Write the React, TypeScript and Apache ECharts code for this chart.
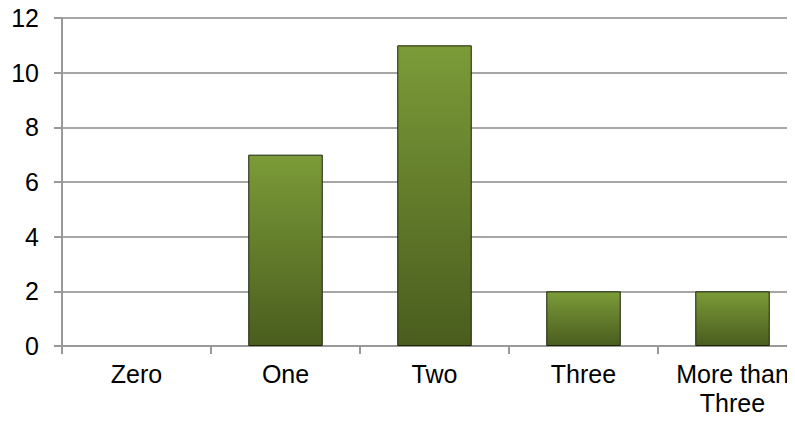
import React, { useEffect, useRef } from "react";
import * as echarts from "echarts";

const categories = ["Zero", "One", "Two", "Three", "More than\nThree"];
const values = [0, 7, 11, 2, 2];
const yTicks = { min: 0, max: 12, interval: 2 };

export default function App() {
  const ref = useRef<HTMLDivElement>(null);
  useEffect(() => {
    if (!ref.current) return;
    const chart = echarts.init(ref.current, null, { renderer: "svg" });
    chart.setOption({
      animation: false,
      backgroundColor: "#ffffff",
      grid: { left: 62, top: 18, width: 745, height: 328, containLabel: false },
      xAxis: {
        type: "category",
        data: categories,
        boundaryGap: true,
        axisLine: { show: true, lineStyle: { color: "#999999", width: 2 } },
        axisTick: { show: true, alignWithLabel: false, length: 8, lineStyle: { color: "#999999", width: 2 } },
        axisLabel: {
          color: "#000000",
          fontFamily: "Liberation Sans, Arial, sans-serif",
          fontSize: 25,
          lineHeight: 29,
          margin: 13,
          interval: 0,
        },
      },
      yAxis: {
        type: "value",
        min: yTicks.min,
        max: yTicks.max,
        interval: yTicks.interval,
        axisLine: { show: true, lineStyle: { color: "#999999", width: 2 } },
        axisTick: { show: true, length: 8, lineStyle: { color: "#999999", width: 2 } },
        splitLine: { show: true, lineStyle: { color: "#a6a6a6", width: 2 } },
        axisLabel: {
          color: "#000000",
          fontFamily: "Liberation Sans, Arial, sans-serif",
          fontSize: 25,
          margin: 23,
        },
      },
      series: [
        {
          type: "bar",
          data: values.map((v) => ({ value: v, itemStyle: { borderWidth: v > 0 ? 1 : 0 } })),
          barCategoryGap: "50%",
          itemStyle: {
            color: new echarts.graphic.LinearGradient(0, 0, 0, 1, [
              { offset: 0, color: "#7b9b38" },
              { offset: 1, color: "#4a5d1e" },
            ]),
            borderColor: "#1a2308",
            borderWidth: 1,
          },
        },
      ],
    });
    return () => chart.dispose();
  }, []);
  return (
    <div style={{ width: 795, height: 421, margin: -8, overflow: "hidden", position: "relative" }}>
      <div ref={ref} style={{ width: 812, height: 421 }} />
    </div>
  );
}
